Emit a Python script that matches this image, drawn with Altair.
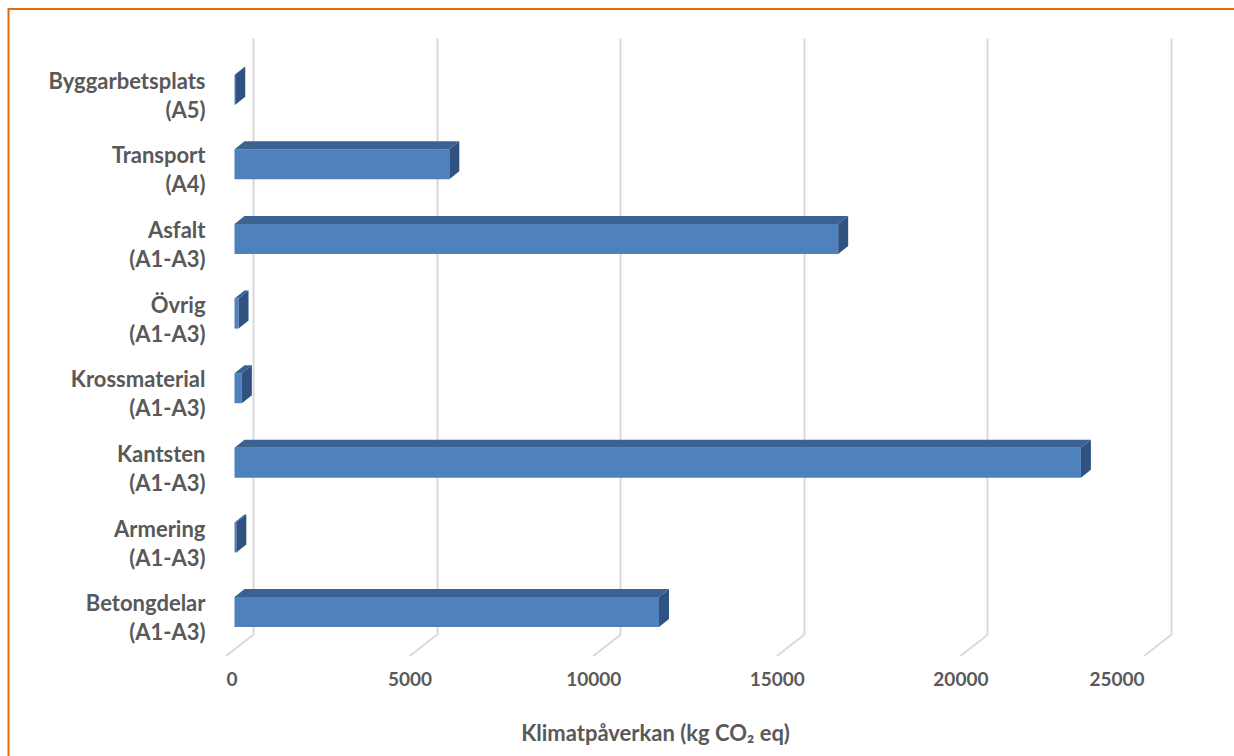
import json
import altair as alt
import pandas as pd

# ---------------- data ----------------
categories = ["Byggarbetsplats", "Transport", "Asfalt", "Övrig",
              "Krossmaterial", "Kantsten", "Armering", "Betongdelar"]
modules = ["(A5)", "(A4)", "(A1-A3)", "(A1-A3)",
           "(A1-A3)", "(A1-A3)", "(A1-A3)", "(A1-A3)"]
values = [20, 5850, 16440, 110, 200, 23050, 50, 11560]
x_ticks = [0, 5000, 10000, 15000, 20000, 25000]
x_title = "Klimatpåverkan (kg CO₂ eq)"

# ---------------- geometry / style ----------------
W, H = 918, 597
XMAX = 25000
N = len(categories)
px_x = W / XMAX          # pixels per kg
px_y = H / N             # pixels per category step

FRONT_DX, FRONT_DY = 18.5, 14.4   # front face shift from back wall (px)
DEPTH_DX, DEPTH_DY = 10.0, 8.0    # bar depth (px)
HALF = 15.0                       # half bar thickness (px)

fdx, fdy = FRONT_DX / px_x, FRONT_DY / px_y
ddx, ddy = DEPTH_DX / px_x, DEPTH_DY / px_y
half = HALF / px_y

FRONT = "#4F81BD"
TOP = "#3B6391"
SIDE = "#2F5281"
GRID = "#D9D9D9"
TEXT = "#595959"
ORANGE = "#E36C09"
FONT = "Lato"

front_rows, top_rows, side_rows = [], [], []
for pos, (c, v) in enumerate(zip(categories, values)):
    i = N - 1 - pos
    ytop = i - fdy + half
    ybot = i - fdy - half
    front_rows.append({"cat": c, "x": -fdx, "x2": v - fdx, "y": ytop, "y2": ybot})
    top_rows.append({"cat": c, "y": ytop, "x": -fdx, "x2": v - fdx})
    top_rows.append({"cat": c, "y": ytop + ddy, "x": -fdx + ddx, "x2": v - fdx + ddx})
    side_rows.append({"cat": c, "x": v - fdx, "y": ybot, "y2": ytop})
    side_rows.append({"cat": c, "x": v - fdx + ddx, "y": ybot + ddy, "y2": ytop + ddy})

front_df = pd.DataFrame(front_rows)
top_df = pd.DataFrame(top_rows)
side_df = pd.DataFrame(side_rows)
tick_df = pd.DataFrame({"t": x_ticks})

labels_by_index = [[categories[N - 1 - i], modules[N - 1 - i]] for i in range(N)]
label_expr = json.dumps(labels_by_index, ensure_ascii=False) + "[datum.value]"

x_scale = alt.Scale(domain=[0, XMAX], nice=False, zero=False)
y_scale = alt.Scale(domain=[-0.5, N - 0.5], nice=False, zero=False)

x_axis = alt.Axis(values=x_ticks, format="d", grid=True, gridColor=GRID, gridWidth=2,
                  ticks=False, domain=False, labelOffset=-27, labelPadding=35,
                  labelFont=FONT, labelFontSize=19, labelFontWeight="bold",
                  labelColor=TEXT, labelBaseline="top",
                  title=x_title, titleFont=FONT, titleFontSize=22,
                  titleFontWeight="bold", titleColor=TEXT,
                  titleX=402, titleY=98, titleBaseline="middle", titleAlign="center")
y_axis = alt.Axis(values=list(range(N)), grid=False, ticks=False, domain=False,
                  labelExpr=label_expr, labelPadding=48, labelOffset=6,
                  labelAlign="right", labelBaseline="middle",
                  labelFont=FONT, labelFontSize=22, labelFontWeight="bold",
                  labelColor=TEXT, labelLineHeight=29, title=None)

border = alt.Chart(alt.Data(values=[{}])).mark_rect(
    fillOpacity=0, stroke=ORANGE, strokeWidth=2
).encode(x=alt.value(8.5 - 253), x2=alt.value(1300), y=alt.value(9 - 38), y2=alt.value(800))

floor = alt.Chart(tick_df).mark_rule(
    color=GRID, strokeWidth=2, x2Offset=-27, y2Offset=21
).encode(
    x=alt.X("t:Q", scale=x_scale, axis=x_axis),
    x2="t:Q",
    y=alt.value(H),
    y2=alt.value(H),
)

front = alt.Chart(front_df).mark_rect(color=FRONT).encode(
    x=alt.X("x:Q", scale=x_scale, axis=x_axis),
    x2="x2:Q",
    y=alt.Y("y:Q", scale=y_scale, axis=y_axis),
    y2="y2:Q",
)

top = alt.Chart(top_df).mark_area(orient="horizontal", color=TOP).encode(
    y=alt.Y("y:Q", scale=y_scale, axis=y_axis),
    x=alt.X("x:Q", scale=x_scale, axis=x_axis, stack=None),
    x2="x2:Q",
    detail="cat:N",
)

side = alt.Chart(side_df).mark_area(orient="vertical", color=SIDE).encode(
    x=alt.X("x:Q", scale=x_scale, axis=x_axis),
    y=alt.Y("y:Q", scale=y_scale, axis=y_axis, stack=None),
    y2="y2:Q",
    detail="cat:N",
)

chart = alt.layer(border, floor, front, top, side).properties(
    width=W, height=H,
    autosize=alt.AutoSizeParams(type="none"),
    padding={"left": 253, "top": 38, "right": 63, "bottom": 121},
    background="white",
).configure_view(stroke=None)

chart.save("out.html", embed_options={"renderer": "svg", "actions": False})
